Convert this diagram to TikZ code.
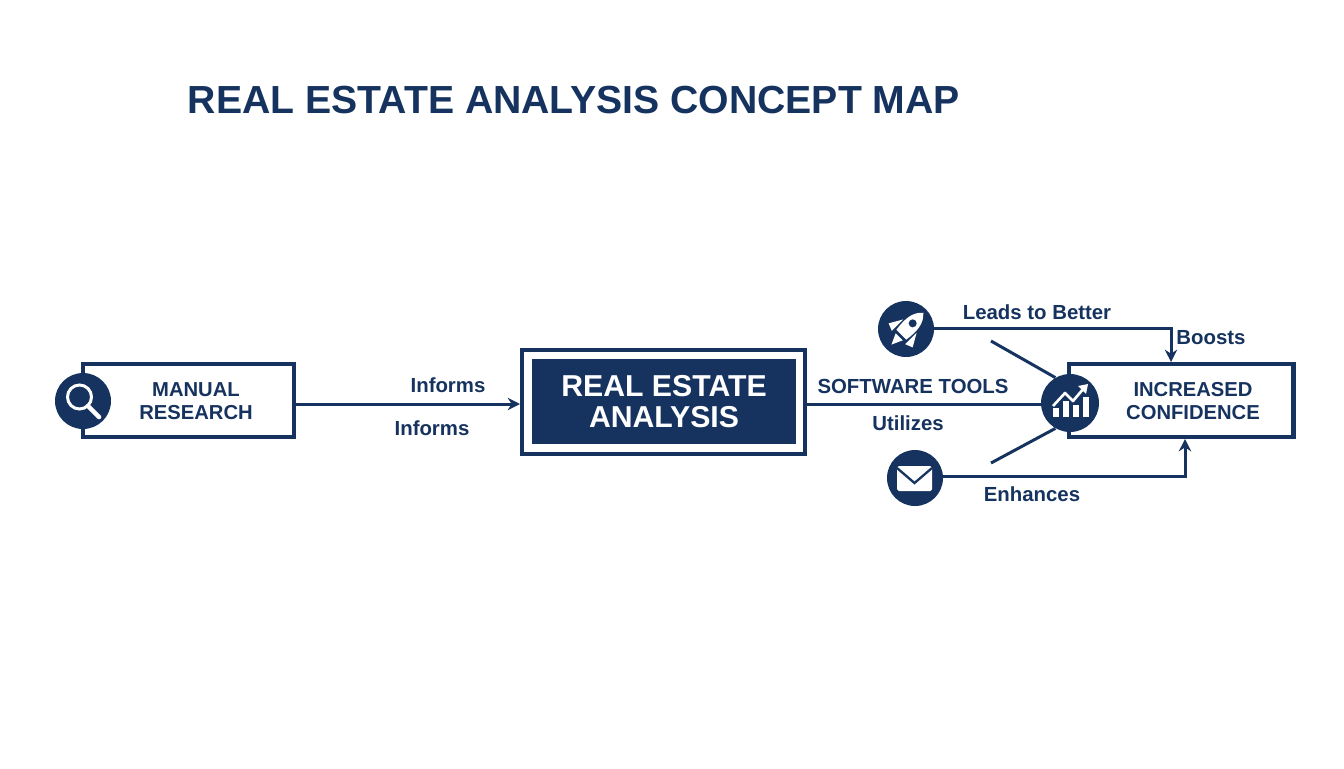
\documentclass[tikz,border=0pt]{standalone}
\usepackage{fontspec}
\setmainfont{Liberation Sans}
\usetikzlibrary{arrows.meta}
\definecolor{navy}{HTML}{16335F}
\tikzset{
  conceptbox/.style={draw=navy,line width=2.3pt,fill=white,inner sep=0pt},
  boxtext/.style={text=navy,align=center,inner sep=0pt,font=\bfseries\fontsize{11.5}{13}\selectfont},
  iconcircle/.style={circle,fill=navy,minimum size=1.12cm,inner sep=0pt},
  linklabel/.style={text=navy,font=\bfseries\fontsize{11.6}{12}\selectfont,inner sep=0pt},
  link/.style={draw=navy,line width=1.7pt},
  linkarrow/.style={link,-{Stealth[length=7pt,width=7pt]}},
}
\begin{document}
\begin{tikzpicture}[x=0.02cm,y=-0.02cm]
  \useasboundingbox (0,0) rectangle (1344,768);
  \fill[white] (0,0) rectangle (1344,768);
  \node[text=navy,font=\bfseries\fontsize{22.3}{24}\selectfont,inner sep=0pt] (title) at (574,100) {REAL ESTATE ANALYSIS CONCEPT MAP};

  % boxes
  \node[conceptbox,minimum width=4.22cm,minimum height=1.46cm] (manual) at (188.5,400.5) {};
  \node[boxtext] (manualtext) at (196,401) {MANUAL\\RESEARCH};
  \node[draw=navy,line width=2.3pt,minimum width=5.66cm,minimum height=2.08cm,inner sep=0pt] (analysis) at (663.5,402) {};
  \node[fill=navy,text=white,align=center,minimum width=5.28cm,minimum height=1.7cm,inner sep=0pt,font=\bfseries\fontsize{17.2}{17.8}\selectfont] (analysistext) at (664,401.5) {REAL ESTATE\\ANALYSIS};
  \node[conceptbox,minimum width=4.5cm,minimum height=1.46cm] (confidence) at (1181,400.5) {};
  \node[boxtext] (confidencetext) at (1193,401) {INCREASED\\CONFIDENCE};

  % icon circles
  \node[iconcircle] (search) at (83,401) {};
  \node[iconcircle] (rocket) at (906,329) {};
  \node[iconcircle,minimum size=1.16cm] (chart) at (1070,403) {};
  \node[iconcircle] (mail) at (915,478) {};

  % connectors
  \coordinate (manualout) at (manual.east |- 0,404);
  \coordinate (analysisin) at (analysis.west |- 0,404);
  \coordinate (analysisout) at (analysis.east |- 0,404);
  \coordinate (upperfree) at (991,341);
  \coordinate (lowerfree) at (991,463);
  \draw[linkarrow] (manualout) -- (analysisin);
  \draw[link] (analysisout) -- (chart.west |- 0,404);
  \draw[link] (upperfree) -- (chart.120);
  \draw[link] (lowerfree) -- (chart.240);
  \draw[linkarrow] (rocket.east |- 0,328) -| (confidence.north -| 1171,0);
  \draw[linkarrow] (mail.east |- 0,476) -| (confidence.south -| 1185,0);

  % labels
  \node[linklabel] (informsa) at (448,385) {Informs};
  \node[linklabel] (informsb) at (432,428) {Informs};
  \node[linklabel] (software) at (913,386) {SOFTWARE TOOLS};
  \node[linklabel] (utilizes) at (908,423) {Utilizes};
  \node[linklabel] (leads) at (1037,312) {Leads to Better};
  \node[linklabel] (boosts) at (1211,338) {Boosts};
  \node[linklabel] (enhances) at (1032,494) {Enhances};

  % magnifier
  \draw[white,line width=1.7pt] (79.5,397) circle (12);
  \draw[white,line width=2.6pt,line cap=round] (88,406) -- (99,417);

  % rocket
  \begin{scope}[shift={(907,329)},rotate=-45]
    \fill[white] (0,-23) .. controls (8,-16) and (9,-6) .. (7,8) -- (-7,8) .. controls (-9,-6) and (-8,-16) .. (0,-23);
    \fill[navy] (0,-8) circle (4);
    \fill[white] (-9.5,-4) -- (-17,9) -- (-9.5,12) -- cycle;
    \fill[white] (9.5,-4) -- (17,9) -- (9.5,12) -- cycle;
    \fill[white] (-5,11) -- (5,11) -- (0,22) -- cycle;
  \end{scope}

  % chart
  \foreach \barx/\bartop in {1053/408,1063/401,1073/405,1083/397}
    \fill[white] (\barx,\bartop) rectangle (\barx+6,417);
  \draw[navy,line width=3pt,line join=round] (1053,406) -- (1065,393) -- (1073,401) -- (1084,388);
  \draw[white,line width=1.5pt,line join=round] (1053,406) -- (1065,393) -- (1073,401) -- (1084,388);
  \fill[white] (1088,384) -- (1078,386) -- (1086,394) -- cycle;

  % mail
  \fill[white,rounded corners=1pt] (897,466) rectangle (932,491);
  \draw[navy,line width=1.3pt] (897,468) -- (914.5,483) -- (932,468);
\end{tikzpicture}
\end{document}
